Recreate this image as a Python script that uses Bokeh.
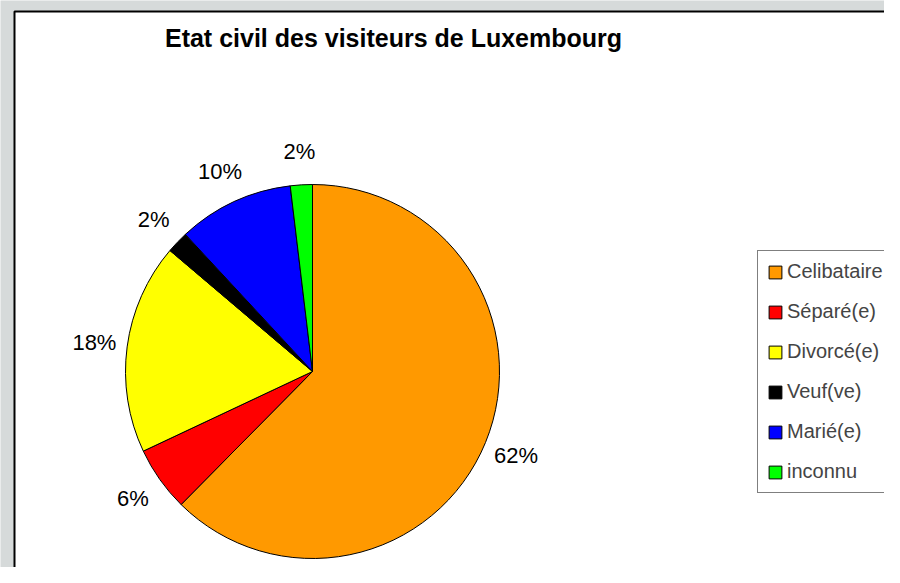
import numpy as np
from bokeh.plotting import figure
from bokeh.models import Range1d, Legend, LegendItem, ColumnDataSource
from bokeh.core.properties import value
from bokeh.embed import file_html
from bokeh.resources import INLINE

title = "Etat civil des visiteurs de Luxembourg"
categories = ["Celibataire", "Séparé(e)", "Divorcé(e)", "Veuf(ve)", "Marié(e)", "inconnu"]
shares = [62.4, 5.6, 18.2, 1.9, 10.0, 1.9]
colors = ["#FF9900", "#FF0000", "#FFFF00", "#000000", "#0000FF", "#00FF00"]

W, H = 884, 567
FONT = "Liberation Sans"

p = figure(width=W, height=H, output_backend="svg", toolbar_location=None,
           x_range=Range1d(0, W), y_range=Range1d(0, H), min_border=0)
p.axis.visible = False
p.grid.visible = False
p.outline_line_color = None
p.background_fill_color = "#d6dada"
p.border_fill_color = "#d6dada"

# chart area
p.quad(left=[14], right=[W + 20], top=[H - 11], bottom=[-20],
       fill_color="white", line_color="black", line_width=2)

cx, cy, r = 312, H - 371, 187
vals = np.array(shares, dtype=float)
frac = vals / vals.sum()
ends = np.cumsum(frac) * 2 * np.pi
starts = ends - frac * 2 * np.pi
start_ang = np.pi / 2 - starts
end_ang = np.pi / 2 - ends
mid = np.pi / 2 - (starts + ends) / 2
lr = 220
src = ColumnDataSource(dict(
    lx=cx + lr * np.cos(mid), ly=cy + lr * np.sin(mid),
    lab=[f"{round(v)}%" for v in frac * 100],
))

items = []
for i in range(len(categories)):
    rr = p.wedge(x=cx, y=cy, radius=r, start_angle=start_ang[i], end_angle=end_ang[i],
                 direction="clock", fill_color=colors[i], line_color="black", line_width=1)
    items.append(LegendItem(label=categories[i], renderers=[rr]))

p.text(x="lx", y="ly", text="lab", source=src, text_align="center", text_baseline="middle",
       text_font=value(FONT), text_font_size="22px", text_color="black")

p.text(x=[393], y=[H - 37], text=[title], text_align="center", text_baseline="middle",
       text_font=value(FONT), text_font_size="25px", text_font_style="bold", text_color="black")

legend = Legend(items=items, location=(757, H - 493), orientation="vertical",
                label_text_font=FONT, label_text_font_size="20px",
                glyph_width=16, glyph_height=16, label_standoff=4, padding=9,
                spacing=17, border_line_color="black", border_line_width=1,
                background_fill_color="white", background_fill_alpha=1.0,
                label_height=22, margin=0)
p.add_layout(legend)

open("out.html", "w").write(file_html(p, INLINE))
